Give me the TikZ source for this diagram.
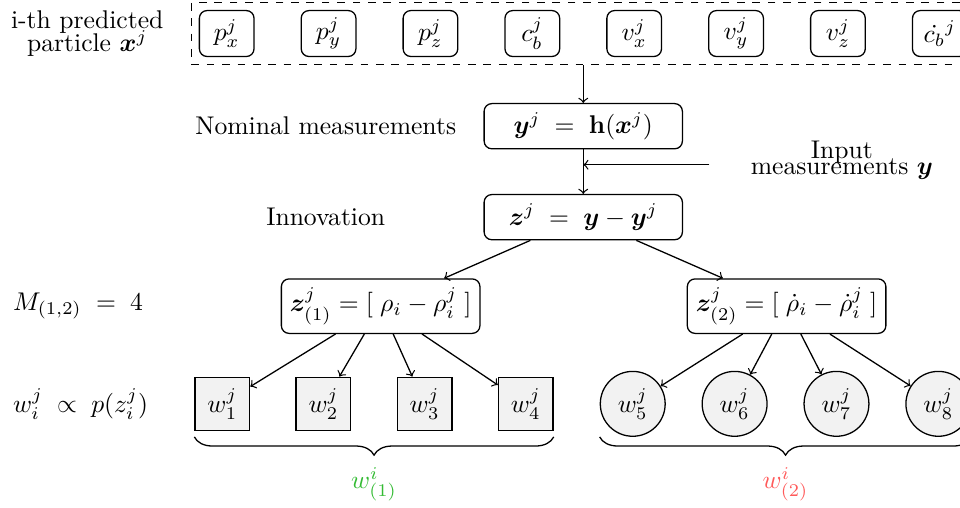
\documentclass[tikz,border=0pt]{standalone}
\usepackage{amsmath,bm}
\usetikzlibrary{positioning,fit,calc,decorations.pathreplacing}
\definecolor{verdeclaro}{HTML}{33BB33}
\definecolor{rojoclaro}{HTML}{FF5A5A}

\begin{document}
\begin{tikzpicture}[line width=0.5pt,
        c/.style={draw,rounded corners=3pt,minimum width=0.75cm,minimum height=0.63cm,inner sep=1pt},
        e/.style={draw,rounded corners=3pt,minimum width=2.72cm,minimum height=0.62cm},
        q/.style={draw,fill=gray!10,minimum width=0.75cm,minimum height=0.73cm,inner sep=1pt},
        r/.style={draw,circle,fill=gray!10,minimum size=0.89cm,inner sep=1pt},
        a/.style={->},
        ll/.style={decorate,decoration={brace,mirror,amplitude=0.25cm,raise=0.08cm}}]
        \useasboundingbox (0,0) rectangle (13.17,-6.96);
        % particle state
        \node[c] (px) at (3.11,-0.46) {$p_x^j$};
        \node[c,right=0.63cm of px] (py) {$p_y^j$};
        \node[c,right=0.63cm of py] (pz) {$p_z^j$};
        \node[c,right=0.63cm of pz] (cb) {$c_b^j$};
        \node[c,right=0.63cm of cb] (vx) {$v_x^j$};
        \node[c,right=0.63cm of vx] (vy) {$v_y^j$};
        \node[c,right=0.63cm of vy] (vz) {$v_z^j$};
        \node[c,right=0.63cm of vz] (dcb) {$\dot{c_b}^j$};
        \node[fit=(px)(dcb),draw,dashed,inner sep=0.1cm] (st) {};
        \node[left=0.25cm of st,align=center] (stlab) {i-th predicted\\[-3pt] particle $\bm{x}^j$};
        % measurements
        \node[e,below=0.52cm of st] (nom) {$\bm{y}^j \;=\; \mathbf{h}(\bm{x}^j)$};
        \node[e,below=0.61cm of nom] (inn) {$\bm{z}^j \;=\; \bm{y} - \bm{y}^j$};
        \node[left=0.25cm of nom] (nomlab) {Nominal measurements};
        \node (innlab) at (nomlab |- inn) {Innovation};
        \coordinate (ent) at (9.73,-2.26);
        \node[align=center] (inlab) at (11.55,-2.2) {Input\\[-5.5pt] measurements $\bm{y}$};
        % split
        \node[e,minimum width=2.7cm,minimum height=0.69cm,below left=0.52cm and 0.04cm of inn] (z1) {$\bm{z}^j_{(1)} = [\;\rho_i - \rho_i^j\;]$};
        \node[e,minimum width=2.7cm,minimum height=0.69cm,below right=0.52cm and 0.05cm of inn] (z2) {$\bm{z}^j_{(2)} = [\;\dot\rho_i - \dot\rho_i^j\;]$};
        % weights
        \node[q] (w1) at (3.05,-5.54) {$w_1^j$};
        \node[q,right=0.62cm of w1] (w2) {$w_2^j$};
        \node[q,right=0.62cm of w2] (w3) {$w_3^j$};
        \node[q,right=0.62cm of w3] (w4) {$w_4^j$};
        \node[r,right=0.63cm of w4] (w5) {$w_5^j$};
        \node[r,right=0.49cm of w5] (w6) {$w_6^j$};
        \node[r,right=0.49cm of w6] (w7) {$w_7^j$};
        \node[r,right=0.49cm of w7] (w8) {$w_8^j$};
        \node[left=0.51cm of w1] (wlab) {$w_i^j \;\propto\; p(z_i^j)$};
        \node[anchor=west] (mlab) at (wlab.west |- z1) {$M_{(1,2)} \;=\; 4$};
        \draw[a] (st.south) -- (nom); \draw[a] (nom) -- (inn);
        \draw[a] (ent) -- (ent -| inn);
        \draw[a] (inn) -- (z1); \draw[a] (inn) -- (z2);
        \draw[a] (z1) -- (w1); \draw[a] (z1) -- (w2); \draw[a] (z1) -- (w3); \draw[a] (z1) -- (w4);
        \draw[a] (z2) -- (w5); \draw[a] (z2) -- (w6); \draw[a] (z2) -- (w7); \draw[a] (z2) -- (w8);
        % groups
        \draw[ll] (w1.south west) -- (w4.south east);
        \draw[ll] (w5.west |- w1.south) -- (w8.east |- w1.south);
        \node[text=verdeclaro] (s1) at ([yshift=-0.73cm]$(w1.south)!0.5!(w4.south)$) {$w^i_{(1)}$};
        \node[text=rojoclaro] (s2) at ([yshift=-0.73cm]$(w5.south |- w1.south)!0.5!(w8.south |- w1.south)$) {$w^i_{(2)}$};
      \end{tikzpicture}
\end{document}
